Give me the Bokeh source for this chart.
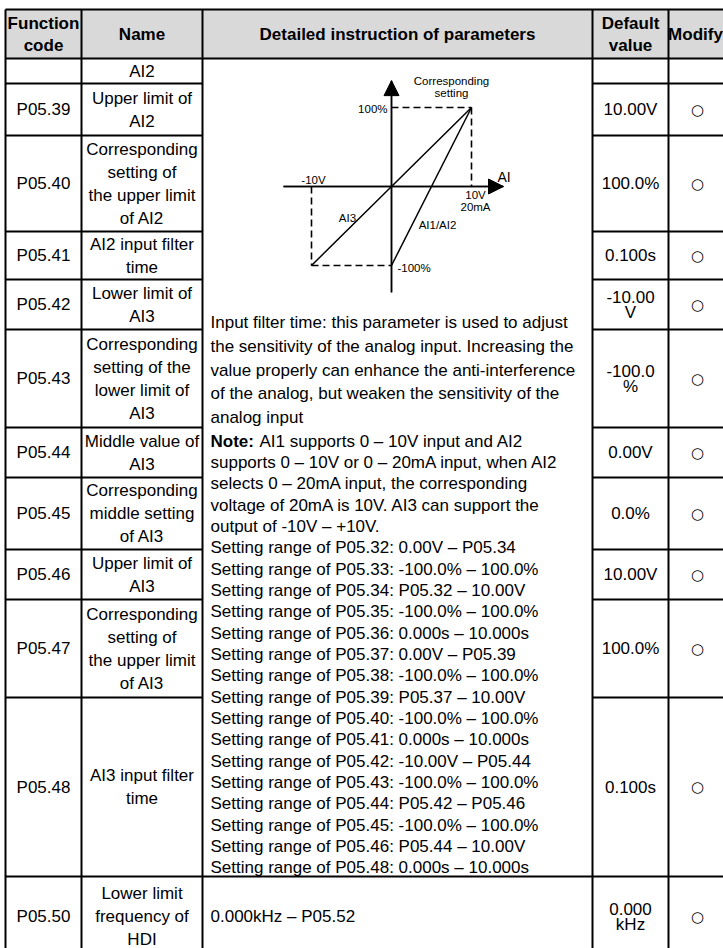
from bokeh.plotting import figure
from bokeh.models import Range1d, Arrow, NormalHead
from bokeh.core.properties import value
from bokeh.embed import file_html
from bokeh.resources import INLINE

# ---------------- data ----------------
header_cells = [["Function", "code"], ["Name"], ["Detailed instruction of parameters"],
                ["Default", "value"], ["Modify"]]
codes = ["", "P05.39", "P05.40", "P05.41", "P05.42", "P05.43", "P05.44",
         "P05.45", "P05.46", "P05.47", "P05.48", "P05.50"]
names = [["AI2"],
         ["Upper limit of", "AI2"],
         ["Corresponding", "setting of", "the upper limit", "of AI2"],
         ["AI2 input filter", "time"],
         ["Lower limit of", "AI3"],
         ["Corresponding", "setting of the", "lower limit of", "AI3"],
         ["Middle value of", "AI3"],
         ["Corresponding", "middle setting", "of AI3"],
         ["Upper limit of", "AI3"],
         ["Corresponding", "setting of", "the upper limit", "of AI3"],
         ["AI3 input filter", "time"],
         ["Lower limit", "frequency of", "HDI"]]
defaults = [[], ["10.00V"], ["100.0%"], ["0.100s"], ["-10.00", "V"], ["-100.0", "%"],
            ["0.00V"], ["0.0%"], ["10.00V"], ["100.0%"], ["0.100s"], ["0.000", "kHz"]]
modify = ["", "○", "○", "○", "○", "○", "○", "○", "○", "○", "○", "○"]

desc_para = ["Input filter time: this parameter is used to adjust",
             "the sensitivity of the analog input. Increasing the",
             "value properly can enhance the anti-interference",
             "of the analog, but weaken the sensitivity of the",
             "analog input"]
note_head = "Note:"
note_lines = ["AI1 supports 0 – 10V input and AI2",
              "supports 0 – 10V or 0 – 20mA input, when AI2",
              "selects 0 – 20mA input, the corresponding",
              "voltage of 20mA is 10V. AI3 can support the",
              "output of -10V – +10V.",
              "Setting range of P05.32: 0.00V – P05.34",
              "Setting range of P05.33: -100.0% – 100.0%",
              "Setting range of P05.34: P05.32 – 10.00V",
              "Setting range of P05.35: -100.0% – 100.0%",
              "Setting range of P05.36: 0.000s – 10.000s",
              "Setting range of P05.37: 0.00V – P05.39",
              "Setting range of P05.38: -100.0% – 100.0%",
              "Setting range of P05.39: P05.37 – 10.00V",
              "Setting range of P05.40: -100.0% – 100.0%",
              "Setting range of P05.41: 0.000s – 10.000s",
              "Setting range of P05.42: -10.00V – P05.44",
              "Setting range of P05.43: -100.0% – 100.0%",
              "Setting range of P05.44: P05.42 – P05.46",
              "Setting range of P05.45: -100.0% – 100.0%",
              "Setting range of P05.46: P05.44 – 10.00V",
              "Setting range of P05.48: 0.000s – 10.000s"]
last_desc = "0.000kHz – P05.52"

# diagram data (volts on x, % setting on y)
ai3_volts = [-10, 0, 10]
ai3_pct = [-100, 0, 100]
ai12_volts = [0, 10]
ai12_pct = [-100, 100]
x_axis_span = [-13.5, 14.0]
y_axis_span = [-134, 134]

# ---------------- layout ----------------
W, H = 723, 948
col_edges = [5, 81, 202, 592, 668, 726]
row_edges = [9, 58, 83, 135, 231, 279, 329, 427, 477, 549, 599, 697, 876, 956]
FONT = value("Liberation Sans")
FS = "17px"
BLACK = "#000000"

p = figure(width=W, height=H, output_backend="svg", toolbar_location=None,
           x_range=Range1d(0, W), y_range=Range1d(H, 0), min_border=0,
           outline_line_color=None)
p.axis.visible = False
p.grid.visible = False
p.background_fill_color = "white"

# diagram ranges: origin at pixel (391,186), 8 px per volt, 0.79 px per %
ox, oy, sx, sy = 391, 186, 8.0, 0.79
p.extra_x_ranges = {"volt": Range1d(-ox / sx, (W - ox) / sx)}
p.extra_y_ranges = {"pct": Range1d((oy - H) / sy, oy / sy)}

# header background
p.quad(left=[col_edges[0]], right=[col_edges[-1]], top=[row_edges[0]], bottom=[row_edges[1]],
       fill_color="#d9d9d9", line_color=None)

# grid lines
x0, y0, x1, y1 = [], [], [], []
for xe in col_edges:
    x0.append(xe); x1.append(xe); y0.append(row_edges[0]); y1.append(row_edges[-1])
for i, ye in enumerate(row_edges):
    if i in (0, 1, len(row_edges) - 2, len(row_edges) - 1):
        x0.append(col_edges[0]); x1.append(col_edges[-1]); y0.append(ye); y1.append(ye)
    else:
        x0 += [col_edges[0], col_edges[3]]; x1 += [col_edges[2], col_edges[-1]]
        y0 += [ye, ye]; y1 += [ye, ye]
p.segment(x0=x0, y0=y0, x1=x1, y1=y1, line_color=BLACK, line_width=2)

# header text
hx, hy, ht = [], [], []
hc = (row_edges[0] + row_edges[1]) / 2
for ci, lines in enumerate(header_cells):
    cx = (col_edges[ci] + col_edges[ci + 1]) / 2
    if ci == len(header_cells) - 1:
        cx -= 2
    n = len(lines)
    for k, t in enumerate(lines):
        hx.append(cx); hy.append(hc + (k - (n - 1) / 2) * 22); ht.append(t)
p.text(x=hx, y=hy, text=ht, text_font=FONT, text_font_size=FS, text_font_style="bold",
       text_align="center", text_baseline="middle", text_color=BLACK)

# body cells
bx, by, bt = [], [], []
mx, my, mt = [], [], []
for r in range(len(codes)):
    top, bot = row_edges[r + 1], row_edges[r + 2]
    c = (top + bot) / 2
    if codes[r]:
        bx.append((col_edges[0] + col_edges[1]) / 2); by.append(c); bt.append(codes[r])
    n = len(names[r])
    for k, t in enumerate(names[r]):
        bx.append((col_edges[1] + col_edges[2]) / 2); by.append(c + (k - (n - 1) / 2) * 23); bt.append(t)
    n = len(defaults[r])
    for k, t in enumerate(defaults[r]):
        bx.append((col_edges[3] + col_edges[4]) / 2); by.append(c + (k - (n - 1) / 2) * 16); bt.append(t)
    if modify[r]:
        mx.append((col_edges[4] + col_edges[5]) / 2); my.append(c); mt.append(modify[r])
p.text(x=bx, y=by, text=bt, text_font=FONT, text_font_size=FS,
       text_align="center", text_baseline="middle", text_color=BLACK)
p.text(x=mx, y=my, text=mt, text_font=value("DejaVu Sans"), text_font_size="15px",
       text_align="center", text_baseline="middle", text_color=BLACK)

# description text
tx = col_edges[2] + 8
dx, dy, dt = [], [], []
for k, t in enumerate(desc_para):
    dx.append(tx); dy.append(322 + 23.75 * k); dt.append(t)
note_y0 = 440.7
for k, t in enumerate(note_lines):
    dx.append(tx + (49 if k == 0 else 0)); dy.append(note_y0 + 21.33 * k); dt.append(t)
dx.append(tx); dy.append((row_edges[-2] + row_edges[-1]) / 2); dt.append(last_desc)
p.text(x=dx, y=dy, text=dt, text_font=FONT, text_font_size=FS,
       text_align="left", text_baseline="middle", text_color=BLACK)
p.text(x=[tx], y=[note_y0], text=[note_head], text_font=FONT, text_font_size=FS,
       text_font_style="bold", text_align="left", text_baseline="middle", text_color=BLACK)

# ---------------- diagram ----------------
R = dict(x_range_name="volt", y_range_name="pct")
vmin, vmax = min(ai3_volts), max(ai3_volts)
pmin, pmax = min(ai3_pct), max(ai3_pct)
# dashed guides
p.segment(x0=[0, vmax, vmin, vmin], y0=[pmax, pmax, 0, pmin],
          x1=[vmax, vmax, vmin, 0], y1=[pmax, 0, pmin, pmin],
          line_color=BLACK, line_width=1.6, line_dash="7 4", **R)
# axes with arrow heads
p.line(x=x_axis_span, y=[0, 0], line_color=BLACK, line_width=1.5, **R)
p.line(x=[0, 0], y=y_axis_span, line_color=BLACK, line_width=1.5, **R)
p.add_layout(Arrow(end=NormalHead(size=15, fill_color=BLACK, line_color=BLACK),
                   x_start=x_axis_span[0], y_start=0, x_end=x_axis_span[1], y_end=0,
                   line_color=BLACK, line_width=1.5, **R))
p.add_layout(Arrow(end=NormalHead(size=15, fill_color=BLACK, line_color=BLACK),
                   x_start=0, y_start=y_axis_span[0], x_end=0, y_end=y_axis_span[1],
                   line_color=BLACK, line_width=1.5, **R))
# characteristic lines
p.line(x=ai3_volts, y=ai3_pct, line_color=BLACK, line_width=1.5, **R)
p.line(x=ai12_volts, y=ai12_pct, line_color=BLACK, line_width=1.5, **R)

DF = "11.5px"
def lab(x, y, t, align="center", xo=0, yo=0, size=DF):
    p.text(x=[x], y=[y], text=[t], text_font=FONT, text_font_size=size, text_align=align,
           text_baseline="middle", x_offset=xo, y_offset=yo, text_color=BLACK, **R)

lab(vmax, pmax, "Corresponding", xo=-20, yo=-27)
lab(vmax, pmax, "setting", xo=-20, yo=-15)
lab(0, pmax, "100%", align="right", xo=-4, yo=1)
lab(0, pmin, "-100%", align="left", xo=6, yo=2)
lab(vmin, 0, "-10V", xo=2, yo=-7)
lab(vmax, 0, "10V", xo=4, yo=8)
lab(vmax, 0, "20mA", xo=4, yo=20)
lab(x_axis_span[1], 0, "AI", align="left", xo=-6, yo=-10, size="14px")
lab(-5, -50, "AI3", xo=-4, yo=-8)
lab(2.5, -50, "AI1/AI2", xo=26, yo=-1)

open("out.html", "w").write(file_html(p, INLINE))
